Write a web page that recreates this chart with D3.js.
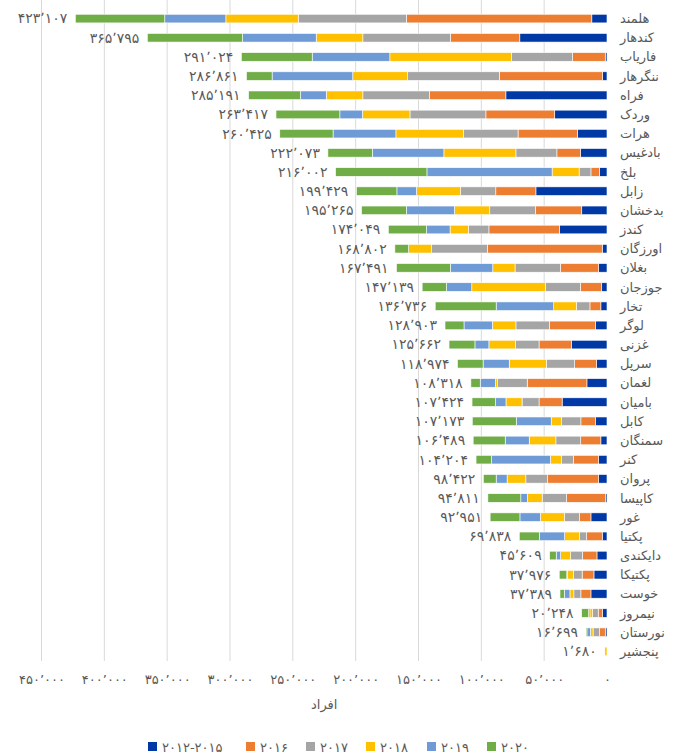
<!DOCTYPE html>
<html>
<head>
<meta charset="utf-8">
<script src="https://cdn.jsdelivr.net/npm/d3@7"></script>
<style>
  body { margin: 0; background: #fff; }
  svg { display: block; font-family: "DejaVu Sans", sans-serif; }
</style>
</head>
<body>
<svg id="chart" width="684" height="755"></svg>
<script>
const provinces = ["هلمند","کندهار","فاریاب","ننگرهار","فراه","وردک","هرات","بادغیس","بلخ","زابل","بدخشان","کندز","اورزگان","بغلان","جوزجان","تخار","لوگر","غزنی","سرپل","لغمان","بامیان","کابل","سمنگان","کنر","پروان","کاپیسا","غور","پکتیا","دایکندی","پکتیکا","خوست","نیمروز","نورستان","پنجشیر"];
const totals = [423107,365795,291024,286861,285191,263417,260425,222073,216002,199429,195265,174049,168802,167491,147139,136736,128903,125662,118974,108318,107424,107173,106489,104204,98422,94811,92951,69838,45609,37976,37389,20248,16699,1680];

const y2012_2015 = [12100,69400,1400,3500,80500,41600,23600,21200,5900,56600,20100,37800,3800,6600,4200,4900,9000,28100,8300,16000,35700,9000,4900,6600,6600,1000,12800,3800,8000,10400,12800,3500,1400,0];
const y2016 = [147500,55200,26000,82200,60700,54800,47200,18700,6900,31900,36800,56200,91300,30500,17000,8700,36800,26000,17400,47500,18400,11800,16000,20100,40600,31200,9000,12500,11500,9400,8000,3500,4500,0];
const y2017 = [86100,69700,48600,72900,53100,60400,43400,32600,9400,28100,36400,16300,44400,36100,27800,10800,26700,18700,22600,23600,13500,15600,19800,9700,17400,19400,12100,5600,9400,6900,5600,4500,5200,0];
const y2018 = [57600,37100,96800,43700,29100,37800,53800,57300,21500,35000,28100,14600,18400,17700,58600,18000,18700,21200,29500,1700,12800,8000,21200,8700,14900,11800,19100,11800,8000,4900,3100,2100,2100,1680];
const y2019 = [48600,58600,61800,64200,20500,18000,50000,56900,99600,15600,38200,18700,0,33700,20100,45800,22600,11100,20800,12100,8300,27800,19100,46800,8700,5200,16300,20100,3500,400,4500,1000,2800,0];
const y2020 = [71200,75800,56400,20400,41300,50800,42400,35400,72700,32200,35700,30400,10900,42900,19400,48500,15100,20600,20400,7400,18700,35000,25500,12300,10200,26200,23700,16000,5200,6000,3400,5600,700,0];

const seriesNames = ["۲۰۱۲-۲۰۱۵","۲۰۱۶","۲۰۱۷","۲۰۱۸","۲۰۱۹","۲۰۲۰"];
const seriesColors = ["#0039a6","#ed7d31","#a5a5a5","#ffc000","#6e9bd6","#70ad47"];
const xTicks = [0,50000,100000,150000,200000,250000,300000,350000,400000,450000];

const faDigits = "۰۱۲۳۴۵۶۷۸۹";
function fa(n) {
    return d3.format(",")(n).replace(/\d/g, d => faDigits[+d]).replace(/,/g, "٬");
}

const seriesData = [y2012_2015, y2016, y2017, y2018, y2019, y2020];
const table = provinces.map((p, i) => {
    const row = { province: p, total: totals[i] };
    seriesNames.forEach((k, j) => row[k] = seriesData[j][i]);
    return row;
});

const svg = d3.select("#chart");

const x = d3.scaleLinear().domain([0, 450000]).range([607, 41.5]);
const y = d3.scaleBand().domain(provinces).range([9, 661]).paddingInner(0.55).paddingOuter(0.275);
const color = d3.scaleOrdinal().domain(seriesNames).range(seriesColors);

// gridlines
svg.append("g")
    .selectAll("line")
    .data(xTicks.filter(d => d > 0))
    .join("line")
    .attr("x1", d => x(d)).attr("x2", d => x(d))
    .attr("y1", 0).attr("y2", 661)
    .attr("stroke", "#d9d9d9")
    .attr("stroke-width", 1);

const stack = d3.stack().keys(seriesNames)(table);

svg.append("g")
    .selectAll("g")
    .data(stack)
    .join("g")
    .attr("fill", d => color(d.key))
    .selectAll("rect")
    .data(d => d)
    .join("rect")
    .attr("x", d => x(d[1]))
    .attr("y", d => y(d.data.province))
    .attr("width", d => x(d[0]) - x(d[1]))
    .attr("height", y.bandwidth())
    .attr("stroke", "#fff")
    .attr("stroke-width", 0.6);

// totals
svg.append("g")
    .selectAll("text")
    .data(table)
    .join("text")
    .attr("x", d => x(d.total) - 8)
    .attr("y", d => y(d.province) + y.bandwidth() / 2)
    .attr("dy", "0.35em")
    .attr("text-anchor", "end")
    .attr("font-size", 14)
    .attr("fill", "#595959")
    .text(d => fa(d.total));

// category labels
svg.append("g")
    .selectAll("text")
    .data(provinces)
    .join("text")
    .attr("x", 620)
    .attr("y", d => y(d) + y.bandwidth() / 2)
    .attr("dy", "0.35em")
    .attr("text-anchor", "start")
    .attr("font-size", 13)
    .attr("fill", "#595959")
    .text(d => d);

// x axis
const xAxis = svg.append("g")
    .attr("transform", "translate(0,672)")
    .call(d3.axisBottom(x).tickValues(xTicks).tickFormat(fa).tickSize(0));
xAxis.select(".domain").remove();
xAxis.selectAll("text")
    .attr("font-family", "DejaVu Sans, sans-serif")
    .attr("font-size", 13)
    .attr("fill", "#595959");

svg.append("text")
    .attr("x", (x(0) + x(450000)) / 2)
    .attr("y", 709)
    .attr("text-anchor", "middle")
    .attr("font-size", 13)
    .attr("fill", "#595959")
    .text("افراد");

// legend
const legendX = [148, 246, 306, 366, 427, 487];
const legend = svg.append("g")
    .selectAll("g")
    .data(seriesNames)
    .join("g")
    .attr("transform", (d, i) => `translate(${legendX[i]},742)`);
legend.append("rect")
    .attr("width", 9).attr("height", 9)
    .attr("fill", d => color(d));
legend.append("text")
    .attr("x", 14).attr("y", 9.5)
    .attr("font-size", 13)
    .attr("fill", "#595959")
    .text(d => d);
</script>
</body>
</html>
